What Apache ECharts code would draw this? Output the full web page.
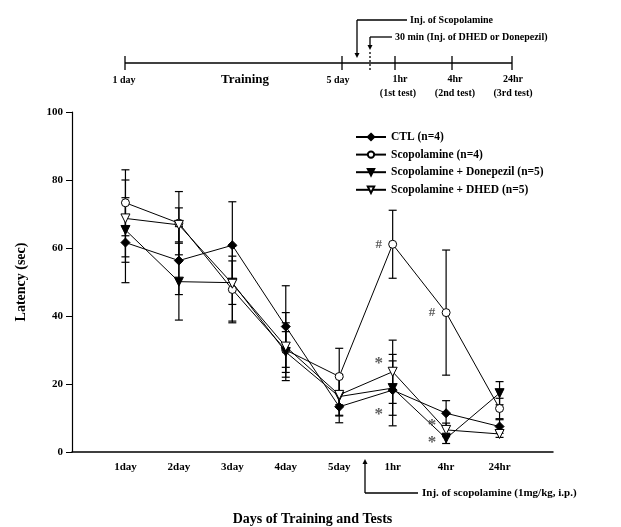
<!DOCTYPE html>
<html>
<head>
<meta charset="utf-8">
<script src="https://cdn.jsdelivr.net/npm/echarts@6/dist/echarts.min.js"></script>
<style>
html, body { margin: 0; padding: 0; background: #fff; }
#main { width: 621px; height: 527px; }
</style>
</head>
<body>
<div id="main"></div>
<script>
// 类别与数据
var days = ['1day', '2day', '3day', '4day', '5day', '1hr', '4hr', '24hr'];
var yTicks = [0, 20, 40, 60, 80, 100];

var ctlMean = [61.6, 56.3, 60.8, 36.9, 13.3, 18.2, 11.4, 7.5];
var ctlErr = [11.8, 10.0, 12.8, 12.0, 4.7, 10.5, 3.7, 2.0];
var scoMean = [73.3, 67.3, 47.8, 30.0, 22.2, 61.1, 41.0, 12.8];
var scoErr = [9.7, 9.3, 9.8, 8.0, 8.3, 10.0, 18.4, 3.0];
var donMean = [65.3, 50.1, 49.8, 29.4, 16.3, 18.8, 4.0, 17.3];
var donErr = [9.5, 11.3, 6.4, 6.0, 5.7, 8.0, 1.5, 3.4];
var dhedMean = [68.7, 66.8, 49.5, 31.0, 16.8, 23.6, 6.5, 5.3];
var dhedErr = [11.3, 5.0, 11.0, 10.0, 6.0, 9.3, 2.0, 1.0];

// 显著性标记 (类别序号, 数值)
var sharpMarks = [[5, 61.1], [6, 41.0]];
var starMarks = [[5, 26.8], [5, 12.0], [6, 8.5], [6, 3.5]];

var FONT = 'Liberation Serif';

function pts(mean) {
    return mean.map(function (v, i) { return [i + 1, v]; });
}
function errData(mean, err) {
    return mean.map(function (v, i) { return [i + 1, v - err[i], v + err[i]]; });
}
function errSeries(mean, err) {
    return {
        type: 'custom',
        silent: true,
        z: 1,
        data: errData(mean, err),
        renderItem: function (params, api) {
            var lo = api.coord([api.value(0), api.value(1)]);
            var hi = api.coord([api.value(0), api.value(2)]);
            var w = 4;
            var st = { stroke: '#000', lineWidth: 1.2 };
            return {
                type: 'group',
                children: [
                    { type: 'line', shape: { x1: hi[0], y1: hi[1], x2: lo[0], y2: lo[1] }, style: st },
                    { type: 'line', shape: { x1: hi[0] - w, y1: hi[1], x2: hi[0] + w, y2: hi[1] }, style: st },
                    { type: 'line', shape: { x1: lo[0] - w, y1: lo[1], x2: lo[0] + w, y2: lo[1] }, style: st }
                ]
            };
        }
    };
}
function lineSeries(name, mean, symbol, filled, size, rotate) {
    return {
        name: name,
        type: 'line',
        z: 3,
        data: pts(mean),
        symbol: symbol,
        symbolSize: size,
        symbolRotate: rotate || 0,
        showAllSymbol: true,
        lineStyle: { color: '#000', width: 1 },
        itemStyle: { color: filled ? '#000' : '#fff', borderColor: '#000', borderWidth: 1 }
    };
}
function markSeries(list, text, size, dy) {
    return {
        type: 'scatter',
        silent: true,
        z: 4,
        symbol: 'circle',
        symbolSize: 1,
        itemStyle: { color: 'rgba(0,0,0,0)' },
        data: list.map(function (p) { return [p[0] + 1, p[1]]; }),
        label: {
            show: true,
            position: 'inside',
            offset: [-14, dy],
            formatter: text,
            fontFamily: FONT,
            fontWeight: 'bold',
            fontSize: size,
            color: '#333'
        }
    };
}

var chart = echarts.init(document.getElementById('main'));

var txt = function (x, y, s, size, align) {
    return {
        type: 'text', x: x, y: y,
        style: {
            text: s, fontFamily: FONT, fontWeight: 'bold', fontSize: size || 10,
            fill: '#000', align: align || 'center', verticalAlign: 'middle'
        }
    };
};
var ln = function (x1, y1, x2, y2, dash) {
    return {
        type: 'line',
        shape: { x1: x1, y1: y1, x2: x2, y2: y2 },
        style: { stroke: '#000', lineWidth: 1.3, lineDash: dash || null }
    };
};
var head = function (x, y, dir) {
    // 箭头 dir: 1 向下, -1 向上
    return {
        type: 'polygon',
        shape: { points: [[x - 2.5, y - 5 * dir], [x + 2.5, y - 5 * dir], [x, y]] },
        style: { fill: '#000' }
    };
};

var option = {
    animation: false,
    backgroundColor: '#fff',
    grid: { left: 72, right: 68, top: 112, bottom: 75, outerBoundsMode: 'none', containLabel: false },
    legend: {
        orient: 'vertical',
        left: 350,
        top: 126,
        itemWidth: 30,
        itemHeight: 8,
        itemGap: 5.6,
        textStyle: { fontFamily: FONT, fontWeight: 'bold', fontSize: 11.5, color: '#000' },
        data: ['CTL (n=4)', 'Scopolamine (n=4)', 'Scopolamine + Donepezil (n=5)', 'Scopolamine + DHED (n=5)']
    },
    xAxis: {
        type: 'value',
        min: 0,
        max: 9,
        interval: 1,
        name: 'Days of Training and Tests',
        nameLocation: 'middle',
        nameGap: 60,
        nameTextStyle: { fontFamily: FONT, fontWeight: 'bold', fontSize: 14, color: '#000' },
        splitLine: { show: false },
        axisTick: { show: false },
        axisLine: { lineStyle: { color: '#000', width: 1.5 } },
        axisLabel: {
            margin: 10,
            fontFamily: FONT, fontWeight: 'bold', fontSize: 11, color: '#000',
            formatter: function (v) { return days[v - 1] || ''; }
        }
    },
    yAxis: {
        type: 'value',
        min: yTicks[0],
        max: yTicks[yTicks.length - 1],
        interval: 20,
        name: 'Latency (sec)',
        nameLocation: 'middle',
        nameGap: 44,
        nameTextStyle: { fontFamily: FONT, fontWeight: 'bold', fontSize: 14, color: '#000' },
        splitLine: { show: false },
        axisLine: { show: true, lineStyle: { color: '#000', width: 1.2 } },
        axisTick: { show: true, length: 6, lineStyle: { color: '#000' } },
        axisLabel: { margin: 9, fontFamily: FONT, fontWeight: 'bold', fontSize: 11, color: '#000' }
    },
    series: [
        errSeries(ctlMean, ctlErr),
        errSeries(scoMean, scoErr),
        errSeries(donMean, donErr),
        errSeries(dhedMean, dhedErr),
        lineSeries('CTL (n=4)', ctlMean, 'diamond', true, 9),
        lineSeries('Scopolamine (n=4)', scoMean, 'circle', false, 8),
        lineSeries('Scopolamine + Donepezil (n=5)', donMean, 'triangle', true, 9, 180),
        lineSeries('Scopolamine + DHED (n=5)', dhedMean, 'triangle', false, 9, 180),
        markSeries(sharpMarks, '#', 13, 0),
        markSeries(starMarks, '*', 17, 3)
    ],
    graphic: [
        // 上方时间轴
        ln(125, 63, 512, 63),
        ln(125, 56, 125, 70),
        ln(342, 56, 342, 70),
        ln(395, 56, 395, 70),
        ln(452, 56, 452, 70),
        ln(512, 56, 512, 70),
        ln(407, 20, 357, 20),
        ln(357, 20, 357, 55),
        head(357, 58, 1),
        ln(392, 37, 370, 37),
        ln(370, 37, 370, 47),
        head(370, 50, 1),
        ln(370, 52, 370, 72, [2, 2]),
        txt(410, 20, 'Inj. of Scopolamine', 10, 'left'),
        txt(395, 37, '30 min (Inj. of DHED or Donepezil)', 10, 'left'),
        txt(124, 80, '1 day', 10),
        txt(245, 80, 'Training', 13),
        txt(338, 80, '5 day', 10),
        txt(400, 79, '1hr', 10),
        txt(398, 93, '(1st test)', 10),
        txt(455, 79, '4hr', 10),
        txt(455, 93, '(2nd test)', 10),
        txt(513, 79, '24hr', 10),
        txt(513, 93, '(3rd test)', 10),
        // 下方注射标注
        ln(365, 463, 365, 493),
        head(365, 459, -1),
        ln(365, 493, 418, 493),
        txt(422, 493, 'Inj. of scopolamine (1mg/kg, i.p.)', 11, 'left')
    ]
};
chart.setOption(option);
</script>
</body>
</html>
